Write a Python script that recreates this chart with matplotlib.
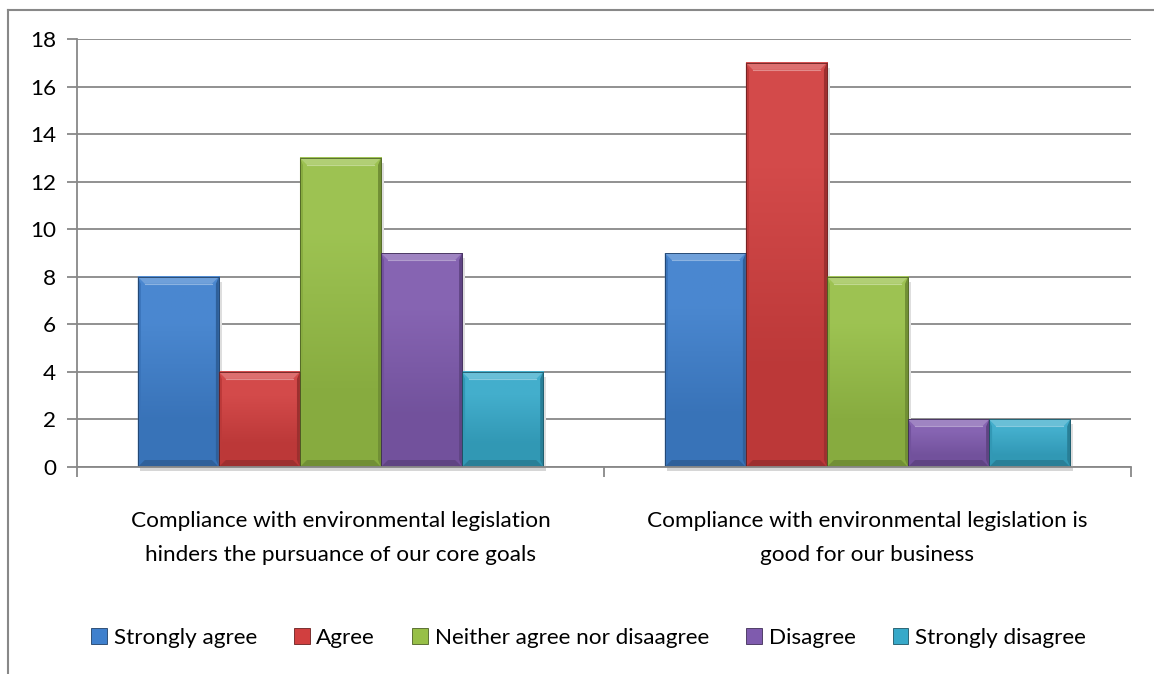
import matplotlib
matplotlib.use("Agg")
import numpy as np
import matplotlib.pyplot as plt
from matplotlib.patches import Polygon, Rectangle
from matplotlib.lines import Line2D
from matplotlib.colors import to_rgb

plt.rcParams['font.family'] = ['Lato', 'DejaVu Sans']

# ------------------------------------------------------------------------------

statements = ["Compliance with environmental legislation\nhinders the pursuance of our core goals",
              "Compliance with environmental legislation is\ngood for our business"]
answers = ["Strongly agree", "Agree", "Neither agree nor disaagree", "Disagree", "Strongly disagree"]
counts = [
  [8, 9],    # Strongly agree
  [4, 17],   # Agree
  [13, 8],   # Neither
  [9, 2],    # Disagree
  [4, 2],    # Strongly disagree
]
colours = ["#3f80cd", "#d13f3f", "#97bf47", "#7f5bae", "#37a9c9"]
yticks = [0, 2, 4, 6, 8, 10, 12, 14, 16, 18]

GRID = "#888888"
FS = 16.2

def shade(c, f):
  r, g, b = to_rgb(c)
  if f > 0:
    return (r + (1-r)*f, g + (1-g)*f, b + (1-b)*f)
  return (r*(1+f), g*(1+f), b*(1+f))

# ----------------------------------------

fig = plt.figure(figsize=(11.54, 6.74), dpi=100)
ax = fig.add_axes([77/1154, 1-467/674, (1131-77)/1154, 428/674])

n = len(answers)
w = 1/6.5
xs = range(len(statements))

# bevel size in data units (~7px)
px_x = 2/1054
px_y = 18/428
bx, by = 7*px_x, 7*px_y
sx = 3*px_x

for i, (name, vals, col) in enumerate(zip(answers, counts, colours)):
  pos = [x + (i - (n-1)/2)*w for x in xs]
  bars = ax.bar(pos, vals, width=w, color=col, edgecolor=shade(col, -0.5),
                linewidth=0.6, label=name, zorder=3)
  for b in bars:
    x0, y0 = b.get_x(), b.get_y()
    x1, y1 = x0 + b.get_width(), y0 + b.get_height()
    # soft shadow right of / under the bar
    ax.add_patch(Rectangle((x1, y0 - 3*px_y), 3*px_x, y1 - y0 - 2*px_y,
                           facecolor="#dedede", edgecolor="none", zorder=2, clip_on=False))
    ax.add_patch(Rectangle((x0 + 2*px_x, y0 - 4*px_y), x1 - x0 + px_x, 4*px_y,
                           facecolor="#d6d6d6", edgecolor="none", zorder=2, clip_on=False))
    # vertical gradient on the face
    grad = np.array([[shade(col, 0.06)], [shade(col, -0.1)]])
    ax.imshow(grad, extent=(x0, x1, y0, y1), aspect="auto", interpolation="bilinear",
              origin="upper", zorder=3.2)
    top = Polygon([(x0, y1), (x1, y1), (x1 - bx, y1 - by), (x0 + bx, y1 - by)],
                  facecolor=shade(col, 0.25), edgecolor="none", zorder=4)
    bot = Polygon([(x0, y0), (x1, y0), (x1 - bx, y0 + by), (x0 + bx, y0 + by)],
                  facecolor=shade(col, -0.25), edgecolor="none", zorder=4)
    left = Polygon([(x0, y0), (x0, y1), (x0 + sx, y1 - by), (x0 + sx, y0 + by)],
                   facecolor=shade(col, -0.1), edgecolor="none", zorder=4)
    right = Polygon([(x1, y0), (x1, y1), (x1 - sx, y1 - by), (x1 - sx, y0 + by)],
                    facecolor=shade(col, -0.25), edgecolor="none", zorder=4)
    for p in (top, bot, left, right):
      ax.add_patch(p)
    ax.plot([x0 + bx, x1 - bx], [y1 - by, y1 - by], color=shade(col, 0.4), lw=0.8, zorder=5)
    ax.add_patch(Rectangle((x0, y0), x1 - x0, y1 - y0, facecolor="none",
                           edgecolor=shade(col, -0.5), linewidth=0.6, zorder=5))

ax.set_xlim(-0.5, 1.5)
ax.set_ylim(0, 18)

ax.set_yticks(yticks)
ax.yaxis.grid(True, color=GRID, linewidth=1.3, zorder=0)
ax.set_axisbelow(True)

ax.set_xticks(list(xs))
ax.set_xticklabels(statements, fontsize=FS, linespacing=1.85)
ax.set_xticks([-0.5, 0.5, 1.5], minor=True)
ax.tick_params(axis="x", which="major", length=0, pad=32)
ax.tick_params(axis="x", which="minor", length=7, width=1.3, color=GRID)
ax.tick_params(axis="y", length=7, width=1.3, color=GRID, labelsize=FS, pad=8)

for s in ("top", "right"):
  ax.spines[s].set_visible(False)
for s in ("left", "bottom"):
  ax.spines[s].set_color(GRID)
  ax.spines[s].set_linewidth(1.3)
  ax.spines[s].set_zorder(6)

fig.legend(loc="center", bbox_to_anchor=(0.51, 1-638/674), ncol=5, frameon=False,
           fontsize=FS, handlelength=0.7, handleheight=0.7, handletextpad=0.3,
           columnspacing=1.65)

# chart area border (top and left only)
fig.add_artist(Line2D([8/1154, 1], [1-9.5/674, 1-9.5/674], color=GRID, lw=1.5))
fig.add_artist(Line2D([8/1154, 8/1154], [0, 1-9.5/674], color=GRID, lw=1.5))

fig.savefig("out.png", dpi=100)
